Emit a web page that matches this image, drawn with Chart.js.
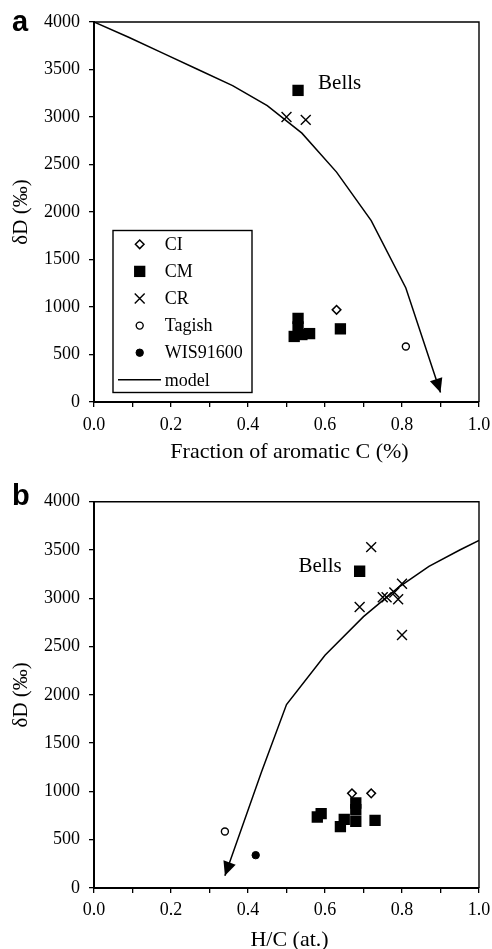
<!DOCTYPE html>
<html><head><meta charset="utf-8">
<script src="https://cdn.jsdelivr.net/npm/chart.js@4/dist/chart.umd.min.js"></script>
<style>
html,body{margin:0;padding:0;background:#fff;}
#wrap{position:relative;width:492px;height:949px;background:#fff;}
canvas{position:absolute;left:0;}
</style></head><body>
<div id="wrap">
<canvas id="ca" width="492" height="470" style="top:0;width:492px;height:470px"></canvas>
<canvas id="cb" width="492" height="479" style="top:470px;width:492px;height:479px"></canvas>
</div>
<script>
// ---------- DATA ----------
const seriesNames = ['CI', 'CM', 'CR', 'Tagish', 'WIS91600', 'model'];
const xTickLabels = ['0.0', '0.2', '0.4', '0.6', '0.8', '1.0'];
const yTickLabels = ['0', '500', '1000', '1500', '2000', '2500', '3000', '3500', '4000'];

// Panel a: fraction of aromatic C vs dD
const aCI_x = [0.63];
const aCI_y = [970];
const aCM_x = [0.53, 0.52, 0.53, 0.53, 0.54, 0.56, 0.64];
const aCM_y = [3280, 690, 880, 790, 710, 720, 770];
const aCR_x = [0.50, 0.55];
const aCR_y = [3000, 2970];
const aTagish_x = [0.81];
const aTagish_y = [585];
const aWIS_x = [];
const aWIS_y = [];
const aModel_x = [0, 0.09, 0.18, 0.27, 0.36, 0.45, 0.54, 0.63, 0.72, 0.81, 0.90];
const aModel_y = [4000, 3840, 3670, 3500, 3330, 3120, 2830, 2420, 1910, 1200, 100];

// Panel b: H/C vs dD (model listed from H/C = 1.0 down to the arrow tip)
const bCI_x = [0.67, 0.72];
const bCI_y = [980, 980];
const bCM_x = [0.69, 0.58, 0.59, 0.64, 0.65, 0.68, 0.68, 0.68, 0.73];
const bCM_y = [3280, 735, 770, 635, 710, 880, 810, 690, 700];
const bCR_x = [0.72, 0.80, 0.75, 0.76, 0.78, 0.79, 0.69, 0.80];
const bCR_y = [3530, 3150, 3010, 3010, 3060, 2990, 2910, 2620];
const bTagish_x = [0.34];
const bTagish_y = [585];
const bWIS_x = [0.42];
const bWIS_y = [340];
const bModel_x = [1.0, 0.95, 0.87, 0.79, 0.70, 0.60, 0.50, 0.435, 0.34];
const bModel_y = [3600, 3500, 3330, 3110, 2810, 2410, 1900, 1200, 127];

// ---------- HELPERS ----------
const zip = (xs, ys) => xs.map((x, i) => ({x: x, y: ys[i]}));
const SERIF = "'Liberation Serif', 'DejaVu Serif', serif";

const styles = {
  CI: {pointStyle: 'rectRot', pointRadius: 4.3, backgroundColor: '#fff', borderColor: '#000', borderWidth: 1.5},
  CM: {pointStyle: 'rect', pointRadius: 8, backgroundColor: '#000', borderColor: '#000', borderWidth: 0},
  CR: {pointStyle: 'crossRot', pointRadius: 7, backgroundColor: '#000', borderColor: '#000', borderWidth: 1.4},
  Tagish: {pointStyle: 'circle', pointRadius: 3.5, backgroundColor: '#fff', borderColor: '#000', borderWidth: 1.4},
  WIS91600: {pointStyle: 'circle', pointRadius: 3.7, backgroundColor: '#000', borderColor: '#000', borderWidth: 1}
};

function drawMarker(ctx, st, x, y) {
  const r = st.pointRadius;
  ctx.save();
  ctx.beginPath();
  ctx.lineWidth = st.borderWidth;
  ctx.strokeStyle = st.borderColor;
  ctx.fillStyle = st.backgroundColor;
  if (st.pointStyle === 'rect') {
    const s = Math.SQRT1_2 * r;
    ctx.rect(x - s, y - s, 2 * s, 2 * s);
    ctx.fill();
  } else if (st.pointStyle === 'rectRot') {
    ctx.moveTo(x - r, y); ctx.lineTo(x, y - r); ctx.lineTo(x + r, y); ctx.lineTo(x, y + r); ctx.closePath();
    ctx.fill(); ctx.stroke();
  } else if (st.pointStyle === 'crossRot') {
    const s = Math.SQRT1_2 * r;
    ctx.moveTo(x - s, y - s); ctx.lineTo(x + s, y + s);
    ctx.moveTo(x + s, y - s); ctx.lineTo(x - s, y + s);
    ctx.stroke();
  } else {
    ctx.arc(x, y, r, 0, Math.PI * 2);
    ctx.fill(); ctx.stroke();
  }
  ctx.restore();
}

function buildDatasets(d) {
  const ds = [];
  ['CI', 'CM', 'CR', 'Tagish', 'WIS91600'].forEach((n, i) => {
    ds.push(Object.assign({label: n, type: 'scatter', data: zip(d[i][0], d[i][1]), pointHoverRadius: 0, order: 1}, styles[n]));
  });
  ds.push({label: 'model', type: 'line', data: zip(d[5][0], d[5][1]), borderColor: '#000', borderWidth: 1.5,
           pointRadius: 0, fill: false, tension: 0, order: 2});
  return ds;
}

// Custom drawing: frame, arrow, legend, titles, annotations
const decorPlugin = {
  id: 'decor',
  afterDatasetsDraw(chart, args, opts) {
    const ctx = chart.ctx;
    const ca = chart.chartArea;
    ctx.save();
    // top & right frame
    ctx.strokeStyle = '#000';
    ctx.lineWidth = 1.4;
    ctx.beginPath();
    ctx.moveTo(ca.left, ca.top); ctx.lineTo(ca.right, ca.top); ctx.lineTo(ca.right, ca.bottom);
    ctx.stroke();
    // arrow head on model line (at its last point)
    const mi = chart.data.datasets.length - 1;
    const pts = chart.getDatasetMeta(mi).data;
    const p1 = pts[pts.length - 2], p2 = pts[pts.length - 1];
    const ang = Math.atan2(p2.y - p1.y, p2.x - p1.x);
    const L = 14, W = 6.5;
    const bx = p2.x - L * Math.cos(ang), by = p2.y - L * Math.sin(ang);
    ctx.fillStyle = '#000';
    ctx.beginPath();
    ctx.moveTo(p2.x, p2.y);
    ctx.lineTo(bx + W * Math.sin(ang), by - W * Math.cos(ang));
    ctx.lineTo(bx - W * Math.sin(ang), by + W * Math.cos(ang));
    ctx.closePath();
    ctx.fill();
    // Bells annotation
    const b = chart.getDatasetMeta(1).data[0];
    ctx.font = '21px ' + SERIF;
    ctx.textBaseline = 'middle';
    ctx.textAlign = opts.bellsAlign;
    ctx.fillText('Bells', b.x + opts.bellsDx, b.y + opts.bellsDy);
    // legend
    if (opts.legend) {
      const bl = ca.left + 19, bh = 162, bw = 139;
      const bt = ca.bottom - 9.5 - bh;
      ctx.fillStyle = '#fff';
      ctx.fillRect(bl, bt, bw, bh);
      ctx.strokeStyle = '#000';
      ctx.lineWidth = 1.4;
      ctx.strokeRect(bl, bt, bw, bh);
      ctx.font = '18px ' + SERIF;
      ctx.textAlign = 'left';
      ctx.textBaseline = 'middle';
      seriesNames.forEach((n, i) => {
        const y = bt + 13.8 + i * 27.1;
        if (n === 'model') {
          ctx.strokeStyle = '#000';
          ctx.lineWidth = 1.5;
          ctx.beginPath();
          ctx.moveTo(bl + 5, y); ctx.lineTo(bl + 48, y);
          ctx.stroke();
        } else {
          drawMarker(ctx, styles[n], bl + 26.7, y);
        }
        ctx.fillStyle = '#000';
        ctx.fillText(n, bl + 51.7, y + 1);
      });
    }
    ctx.restore();
  },
  afterDraw(chart, args, opts) {
    const ctx = chart.ctx;
    const ca = chart.chartArea;
    ctx.save();
    ctx.fillStyle = '#000';
    ctx.font = 'bold 29px "Liberation Sans", Arial, sans-serif';
    ctx.textAlign = 'left';
    ctx.textBaseline = 'middle';
    ctx.fillText(opts.letter, 12, opts.letterY);
    ctx.font = '22px ' + SERIF;
    ctx.textAlign = 'center';
    ctx.fillText(opts.xTitle, (ca.left + ca.right) / 2 + 3, opts.xTitleY);
    ctx.font = '21px ' + SERIF;
    ctx.translate(21, (ca.top + ca.bottom) / 2);
    ctx.rotate(-Math.PI / 2);
    ctx.fillText('\u03B4D (\u2030)', 0, 0);
    ctx.restore();
  }
};

function makeOptions(axisHeight, tickPad, decor) {
  return {
    responsive: false,
    animation: false,
    devicePixelRatio: 1,
    layout: {padding: {left: 0, right: 13, top: decor.padTop, bottom: 0}},
    plugins: {legend: {display: false}, tooltip: {enabled: false}, decor: decor},
    scales: {
      x: {
        type: 'linear', min: 0, max: 1,
        afterFit: (s) => { s.height = axisHeight; s.paddingLeft = 0; s.paddingRight = 0; },
        border: {display: true, color: '#000', width: 2},
        grid: {drawOnChartArea: false, drawTicks: true, tickLength: 5, color: '#000', lineWidth: 1.3},
        ticks: {
          stepSize: 0.1, autoSkip: false, maxRotation: 0, padding: tickPad, color: '#000',
          font: {family: SERIF, size: 18},
          callback: (v, i) => (i % 2 === 0 ? xTickLabels[i / 2] : '')
        }
      },
      y: {
        type: 'linear', min: 0, max: 4000,
        afterFit: (s) => { s.width = 94; s.paddingTop = 0; s.paddingBottom = 0; },
        border: {display: true, color: '#000', width: 2},
        grid: {drawOnChartArea: false, drawTicks: true, tickLength: 5, color: '#000', lineWidth: 1.3},
        ticks: {
          stepSize: 500, padding: 9, color: '#000',
          font: {family: SERIF, size: 18},
          callback: (v, i) => yTickLabels[i]
        }
      }
    }
  };
}

new Chart(document.getElementById('ca'), {
  type: 'scatter',
  data: {datasets: buildDatasets([[aCI_x, aCI_y], [aCM_x, aCM_y], [aCR_x, aCR_y], [aTagish_x, aTagish_y], [aWIS_x, aWIS_y], [aModel_x, aModel_y]])},
  options: makeOptions(68, 7, {padTop: 22, legend: true, letter: 'a', letterY: 23, xTitle: 'Fraction of aromatic C (%)', xTitleY: 452,
    bellsAlign: 'left', bellsDx: 20, bellsDy: -7}),
  plugins: [decorPlugin]
});

new Chart(document.getElementById('cb'), {
  type: 'scatter',
  data: {datasets: buildDatasets([[bCI_x, bCI_y], [bCM_x, bCM_y], [bCR_x, bCR_y], [bTagish_x, bTagish_y], [bWIS_x, bWIS_y], [bModel_x, bModel_y]])},
  options: makeOptions(61, 6, {padTop: 31.7, legend: false, letter: 'b', letterY: 27, xTitle: 'H/C (at.)', xTitleY: 470,
    bellsAlign: 'right', bellsDx: -18, bellsDy: -5}),
  plugins: [decorPlugin]
});
</script>
</body></html>
